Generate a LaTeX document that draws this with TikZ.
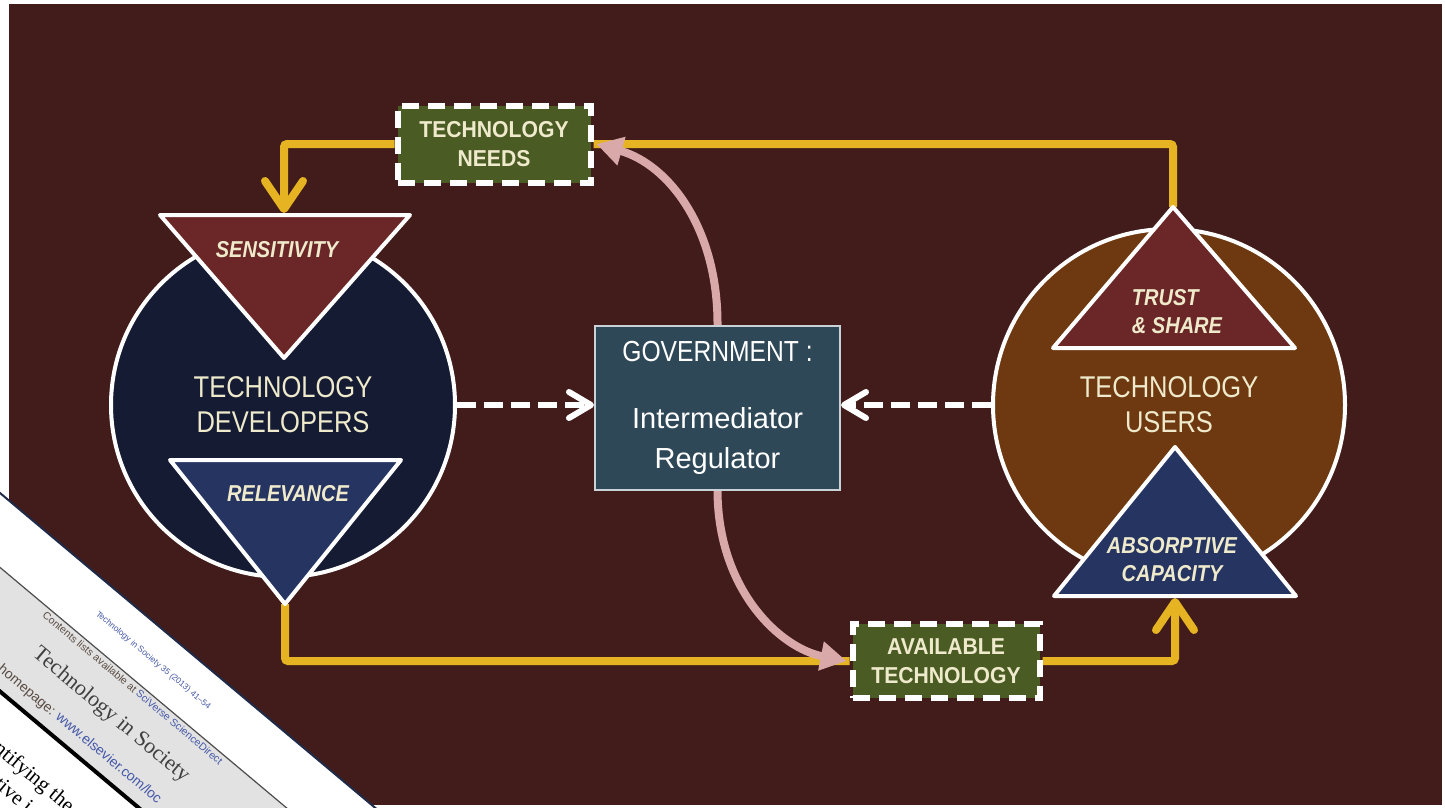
\documentclass[tikz,border=0pt]{standalone}
\usepackage{fontspec}
\setmainfont{Liberation Sans}
\newfontfamily\narrowsans{Liberation Sans}[FakeStretch=0.85]
\newfontfamily\italsans{Liberation Sans}[FakeStretch=0.87]
\newfontfamily\boxsans{Liberation Sans}[FakeStretch=0.92]
\newfontfamily\papserif{Liberation Serif}
\usetikzlibrary{arrows.meta,backgrounds}
\definecolor{bgm}{HTML}{421C1B}
\definecolor{devnavy}{HTML}{141B33}
\definecolor{trired}{HTML}{6B2727}
\definecolor{trinavy}{HTML}{263462}
\definecolor{userbrown}{HTML}{6E3911}
\definecolor{govslate}{HTML}{2F4858}
\definecolor{govedge}{HTML}{C9D2D6}
\definecolor{boxolive}{HTML}{4A5C24}
\definecolor{yel}{HTML}{E6B422}
\definecolor{pinkarr}{HTML}{D8A9A8}
\definecolor{cream}{HTML}{EEEACB}
\definecolor{paperblue}{HTML}{4558A8}
\definecolor{papergrey}{HTML}{E2E2E2}
\definecolor{papertext}{HTML}{5A4C44}
\definecolor{edgenavy}{HTML}{1E2A48}
\begin{document}
\begin{tikzpicture}[x=1pt,y=-1pt,
  circ/.style={circle, draw=white, line width=4pt, inner sep=0pt, text=cream, align=center, font=\narrowsans\fontsize{30}{35}\selectfont},
  tri/.style={draw=white, line width=4pt, line join=round},
  trilabel/.style={text=cream, inner sep=0pt, font=\italsans\bfseries\itshape\fontsize{23}{28}\selectfont},
  needbox/.style={draw=white, fill=boxolive, line width=6pt, dash pattern=on 17pt off 9pt, inner sep=0pt, text=cream, align=center, font=\boxsans\bfseries\fontsize{23}{29}\selectfont},
  govbox/.style={draw=govedge, fill=govslate, line width=2pt, minimum width=245pt, minimum height=164pt, inner sep=0pt, text=white, align=center, font=\fontsize{29}{40}\selectfont},
  yline/.style={draw=yel, line width=8pt, rounded corners=3pt},
  ytip/.style={-{Straight Barb[length=28pt,width=38pt,round]}},
  wdash/.style={draw=white, line width=6pt, dash pattern=on 19pt off 8pt, -{Straight Barb[length=22pt,width=26pt,round]}},
  pcurve/.style={draw=pinkarr, line width=8pt, -{Triangle[length=26pt,width=28pt]}},
  papertxt/.style={transform shape, inner sep=0pt}
]
\useasboundingbox (0,0) rectangle (1445,808);

% ---------- main shapes ----------
\node[circ, fill=devnavy, minimum size=344pt] (dev) at (283,405) {TECHNOLOGY\\DEVELOPERS};
\node[circ, fill=userbrown, minimum size=352pt] (users) at (1169,405) {TECHNOLOGY\\USERS};

\coordinate (sensL) at (160,215);
\coordinate (sensR) at (410,215);
\coordinate (sensApex) at (284,358);
\coordinate (sensTop) at (284,213);
\filldraw[tri, fill=trired] (sensL) -- (sensR) -- (sensApex) -- cycle;
\node[trilabel] (sensLab) at (277,250) {SENSITIVITY};

\coordinate (relL) at (170,460);
\coordinate (relR) at (401,460);
\coordinate (relApex) at (285,604);
\filldraw[tri, fill=trinavy] (relL) -- (relR) -- (relApex) -- cycle;
\node[trilabel] (relLab) at (288,494) {RELEVANCE};

\coordinate (trustApex) at (1173,207);
\coordinate (trustR) at (1295,348);
\coordinate (trustL) at (1053,348);
\filldraw[tri, fill=trired] (trustApex) -- (trustR) -- (trustL) -- cycle;
\node[trilabel, align=left] (trustLab) at (1177,312) {TRUST\\\& SHARE};

\coordinate (absApex) at (1175,447);
\coordinate (absR) at (1296,596);
\coordinate (absL) at (1054,596);
\coordinate (absBase) at (1175,598);
\filldraw[tri, fill=trinavy] (absApex) -- (absR) -- (absL) -- cycle;
\node[trilabel, align=center] (absLab) at (1172,560) {ABSORPTIVE\\CAPACITY};

\node[govbox] (gov) at (717.5,408) {{\narrowsans GOVERNMENT :}\\[27pt]Intermediator\\Regulator};

\node[needbox, minimum width=193pt, minimum height=77pt] (needs) at (494,144) {TECHNOLOGY\\NEEDS};
\node[needbox, minimum width=187pt, minimum height=74pt] (avail) at (946,661) {AVAILABLE\\TECHNOLOGY};

% ---------- background and connectors ----------
\begin{scope}[on background layer]
  \fill[white] (0,0) rectangle (1445,808);
  \fill[bgm] (9,4) rectangle (1442,805);
  \draw[yline] (trustApex) |- (needs.east);
  \draw[yline, ytip] (needs.west) -| (sensTop);
  \draw[yline] (relApex) |- (avail.west);
  \draw[yline, ytip] (avail.east) -| (absBase);
  \draw[wdash] (dev.east) -- (gov.west |- dev.east);
  \draw[wdash] (users.west) -- (gov.east |- users.west);
  \draw[pcurve] (gov.north) .. controls (718,230) and (670,165) .. ([xshift=3pt]needs.east);
  \draw[pcurve] (gov.south) .. controls (718,590) and (780,648) .. ([xshift=-3pt]avail.west);
\end{scope}

% ---------- article clipping, bottom left ----------
\begin{scope}
  \clip (0,0) rectangle (1445,808);
  \begin{scope}[shift={(0,493)}, rotate=-40]
    \fill[white] (-100,0) rectangle (900,600);
    \fill[papergrey] (-100,57) rectangle (900,150);
    \draw[gray!60!black, line width=1.2pt] (-100,57) -- (900,57);
    \draw[black, line width=4pt] (-100,152) -- (900,152);
    \draw[edgenavy, line width=2pt] (-100,0) -- (900,0);
    \node[papertxt, text=paperblue, font=\fontsize{8.5}{10}\selectfont] (pj) at (225,30) {Technology in Society 35 (2013) 41--54};
    \node[papertxt, text=papertext, font=\fontsize{10.5}{12}\selectfont] (pc) at (227,64) {Contents lists available at \textcolor{paperblue}{SciVerse ScienceDirect}};
    \node[papertxt, text=black!75, font=\papserif\fontsize{22}{26}\selectfont] (pt) at (228,99) {Technology in Society};
    \node[papertxt, anchor=west, text=papertext, font=\fontsize{14}{16}\selectfont] (ph) at (112,134) {homepage: \textcolor{paperblue}{www.elsevier.com/loc}};
    \node[papertxt, anchor=base west, text=black, font=\papserif\fontsize{21}{24}\selectfont] (pt1) at (160,202) {ntifying the};
    \node[papertxt, anchor=base west, text=black, font=\papserif\fontsize{21}{24}\selectfont] (pt2) at (183,229) {tive i};
  \end{scope}
\end{scope}
\end{tikzpicture}
\end{document}
